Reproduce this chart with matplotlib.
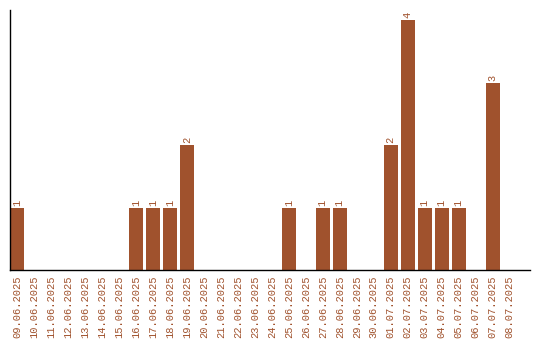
#! /usr/bin/env python3
# coding: utf-8

import matplotlib
matplotlib.use('Agg')
import matplotlib.pyplot as plt
import numpy as np

COLOR = '#A0522D'

dates = ['09.06.2025', '10.06.2025', '11.06.2025', '12.06.2025', '13.06.2025',
         '14.06.2025', '15.06.2025', '16.06.2025', '17.06.2025', '18.06.2025',
         '19.06.2025', '20.06.2025', '21.06.2025', '22.06.2025', '23.06.2025',
         '24.06.2025', '25.06.2025', '26.06.2025', '27.06.2025', '28.06.2025',
         '29.06.2025', '30.06.2025', '01.07.2025', '02.07.2025', '03.07.2025',
         '04.07.2025', '05.07.2025', '06.07.2025', '07.07.2025', '08.07.2025']
counts = [1, 0, 0, 0, 0, 0, 0, 1, 1, 1,
          2, 0, 0, 0, 0, 0, 1, 0, 1, 1,
          0, 0, 2, 4, 1, 1, 1, 0, 3, 0]

plt.rcParams['font.family'] = ['Liberation Mono', 'DejaVu Sans Mono']

fig = plt.figure(figsize=(5.4, 3.4), dpi=100)
ax = fig.add_axes([10 / 540, 70 / 340, 520 / 540, 260 / 340])

x = np.arange(len(dates))
width = 14 / 17
bars = ax.bar(x, counts, width=width, color=COLOR)

for xi, c in zip(x, counts):
    if c > 0:
        ax.text(xi, c + 0.03, str(c), rotation=90, ha='center', va='bottom',
                color=COLOR, fontsize=7.5)

ax.set_xlim(-width / 2, 30.2)
ax.set_ylim(0, 4.16)
ax.set_xticks(x)
ax.set_xticklabels(dates, rotation=90, color=COLOR, fontsize=7.5)
ax.set_yticks([])
ax.tick_params(axis='x', length=0, pad=4)
for side in ['top', 'right']:
    ax.spines[side].set_visible(False)
for side in ['left', 'bottom']:
    ax.spines[side].set_linewidth(1)
    ax.spines[side].set_color('black')

fig.savefig('out.png', dpi=100)
